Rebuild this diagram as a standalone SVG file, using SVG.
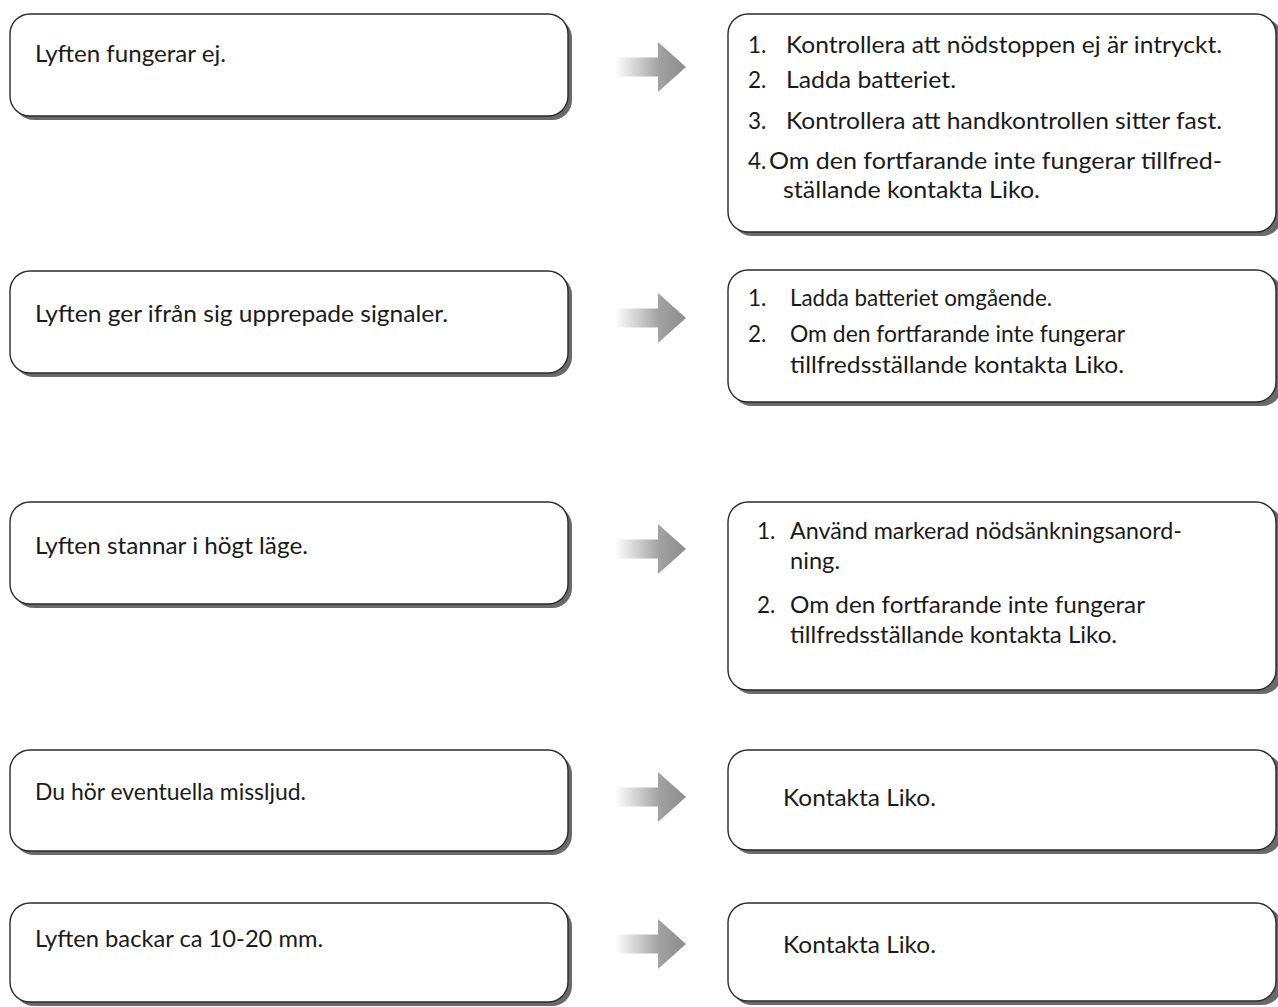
<svg xmlns="http://www.w3.org/2000/svg" width="1278" height="1007" viewBox="0 0 1278 1007">
<defs>
<linearGradient id="shaft" x1="0" y1="0" x2="1" y2="0">
<stop offset="0" stop-color="#ffffff"/>
<stop offset="1" stop-color="#a0a0a0"/>
</linearGradient>
<linearGradient id="head" x1="0" y1="0" x2="1" y2="0">
<stop offset="0" stop-color="#a3a3a3"/>
<stop offset="1" stop-color="#8c8c8c"/>
</linearGradient>
<g id="arrow">
<rect x="0" y="-9.5" width="45" height="19" fill="url(#shaft)"/>
<polygon points="43,-25 71,0 43,25" fill="url(#head)"/>
</g>
</defs>
<style>
.box{fill:#ffffff;stroke:#2a2a2a;stroke-width:1.4}
.shadow{fill:#6a6a6a}
text{font-family:Lato,"Open Sans","Liberation Sans",sans-serif;fill:#1a1a1a}
.l{font-size:22.5px}
.r{font-size:22.5px}
</style>
<rect width="1278" height="1007" fill="#ffffff"/>

<g id="connectors">
<use href="#arrow" x="615" y="67"/>
<use href="#arrow" x="615" y="318"/>
<use href="#arrow" x="615" y="549"/>
<use href="#arrow" x="615" y="797"/>
<use href="#arrow" x="615" y="944"/>
</g>

<g id="q1">
<rect class="shadow" x="14" y="18" width="558" height="102" rx="20"/>
<rect class="box" x="10" y="14" width="558" height="102" rx="20"/>
<text class="l" x="35" y="62" textLength="191" lengthAdjust="spacingAndGlyphs">Lyften fungerar ej.</text>
</g>
<g id="a1">
<rect class="shadow" x="732" y="18" width="550" height="218" rx="20"/>
<rect class="box" x="728" y="14" width="548" height="218" rx="20"/>
<text class="r" x="748" y="53">1.</text>
<text class="r" x="786" y="53" textLength="436" lengthAdjust="spacingAndGlyphs">Kontrollera att nödstoppen ej är intryckt.</text>
<text class="r" x="748" y="88">2.</text>
<text class="r" x="786" y="88" textLength="170" lengthAdjust="spacingAndGlyphs">Ladda batteriet.</text>
<text class="r" x="748" y="129">3.</text>
<text class="r" x="786" y="129" textLength="436" lengthAdjust="spacingAndGlyphs">Kontrollera att handkontrollen sitter fast.</text>
<text class="r" x="748" y="169">4.</text>
<text class="r" x="769" y="169" textLength="453" lengthAdjust="spacingAndGlyphs">Om den fortfarande inte fungerar tillfred-</text>
<text class="r" x="783" y="198" textLength="257" lengthAdjust="spacingAndGlyphs">ställande kontakta Liko.</text>
</g>

<g id="q2">
<rect class="shadow" x="14" y="275" width="558" height="102" rx="20"/>
<rect class="box" x="10" y="271" width="558" height="102" rx="20"/>
<text class="l" x="35" y="322" textLength="413" lengthAdjust="spacingAndGlyphs">Lyften ger ifrån sig upprepade signaler.</text>
</g>
<g id="a2">
<rect class="shadow" x="732" y="274" width="550" height="132" rx="20"/>
<rect class="box" x="728" y="270" width="548" height="132" rx="20"/>
<text class="r" x="748" y="306">1.</text>
<text class="r" x="790" y="306" textLength="262" lengthAdjust="spacingAndGlyphs">Ladda batteriet omgående.</text>
<text class="r" x="748" y="342">2.</text>
<text class="r" x="790" y="342" textLength="335" lengthAdjust="spacingAndGlyphs">Om den fortfarande inte fungerar</text>
<text class="r" x="790" y="373" textLength="334" lengthAdjust="spacingAndGlyphs">tillfredsställande kontakta Liko.</text>
</g>

<g id="q3">
<rect class="shadow" x="14" y="506" width="558" height="102" rx="20"/>
<rect class="box" x="10" y="502" width="558" height="102" rx="20"/>
<text class="l" x="35" y="554" textLength="273" lengthAdjust="spacingAndGlyphs">Lyften stannar i högt läge.</text>
</g>
<g id="a3">
<rect class="shadow" x="732" y="506" width="550" height="188" rx="20"/>
<rect class="box" x="728" y="502" width="548" height="188" rx="20"/>
<text class="r" x="757" y="539">1.</text>
<text class="r" x="790" y="539" textLength="392" lengthAdjust="spacingAndGlyphs">Använd markerad nödsänkningsanord-</text>
<text class="r" x="790" y="569" textLength="50" lengthAdjust="spacingAndGlyphs">ning.</text>
<text class="r" x="757" y="613">2.</text>
<text class="r" x="790" y="613" textLength="355" lengthAdjust="spacingAndGlyphs">Om den fortfarande inte fungerar</text>
<text class="r" x="790" y="643" textLength="327" lengthAdjust="spacingAndGlyphs">tillfredsställande kontakta Liko.</text>
</g>

<g id="q4">
<rect class="shadow" x="14" y="754" width="558" height="101" rx="20"/>
<rect class="box" x="10" y="750" width="558" height="101" rx="20"/>
<text class="l" x="35" y="800" textLength="271" lengthAdjust="spacingAndGlyphs">Du hör eventuella missljud.</text>
</g>
<g id="a4">
<rect class="shadow" x="732" y="754" width="550" height="100" rx="20"/>
<rect class="box" x="728" y="750" width="548" height="100" rx="20"/>
<text class="r" x="783" y="806" textLength="153" lengthAdjust="spacingAndGlyphs">Kontakta Liko.</text>
</g>

<g id="q5">
<rect class="shadow" x="14" y="907" width="558" height="99" rx="20"/>
<rect class="box" x="10" y="903" width="558" height="99" rx="20"/>
<text class="l" x="35" y="947" textLength="288" lengthAdjust="spacingAndGlyphs">Lyften backar ca 10-20 mm.</text>
</g>
<g id="a5">
<rect class="shadow" x="732" y="907" width="550" height="98" rx="20"/>
<rect class="box" x="728" y="903" width="548" height="98" rx="20"/>
<text class="r" x="783" y="953" textLength="153" lengthAdjust="spacingAndGlyphs">Kontakta Liko.</text>
</g>
</svg>
